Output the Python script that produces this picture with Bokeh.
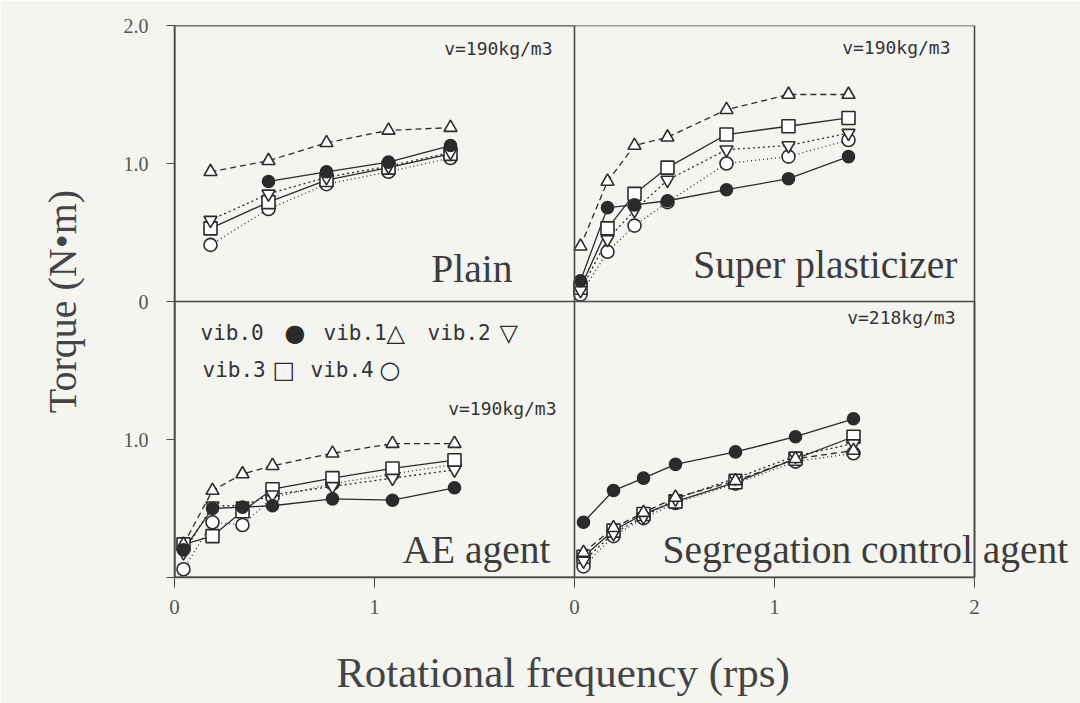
from bokeh.plotting import figure
from bokeh.models import Range1d, FixedTicker, Label, BoxAnnotation
from bokeh.embed import file_html
from bokeh.resources import INLINE

nan = float("nan")

# ---- data (rotational frequency in rps, torque in N*m) ----
plain_x = [0.18, 0.47, 0.76, 1.07, 1.38]
plain_vib0 = [nan, 0.87, 0.94, 1.01, 1.13]
plain_vib1 = [0.94, 1.02, 1.15, 1.24, 1.26]
plain_vib2 = [0.59, 0.78, 0.90, 0.98, 1.08]
plain_vib3 = [0.53, 0.72, 0.88, 0.97, 1.07]
plain_vib4 = [0.41, 0.67, 0.85, 0.94, 1.04]

sp_x = [0.03, 0.165, 0.30, 0.465, 0.76, 1.07, 1.37]
sp_vib0 = [0.15, 0.68, 0.70, 0.73, 0.81, 0.89, 1.05]
sp_vib1 = [0.40, 0.87, 1.13, 1.19, 1.39, 1.50, 1.50]
sp_vib2 = [0.08, 0.45, 0.66, 0.88, 1.10, 1.13, 1.22]
sp_vib3 = [0.10, 0.53, 0.78, 0.97, 1.21, 1.27, 1.33]
sp_vib4 = [0.05, 0.36, 0.55, 0.72, 1.00, 1.05, 1.17]

ae_x = [0.045, 0.19, 0.34, 0.49, 0.79, 1.09, 1.40]
ae_vib0 = [0.20, 0.50, 0.51, 0.52, 0.57, 0.56, 0.65]
ae_vib1 = [0.24, 0.63, 0.75, 0.81, 0.90, 0.97, 0.97]
ae_vib2 = [0.18, 0.52, 0.52, 0.60, 0.66, 0.72, 0.78]
ae_vib3 = [0.24, 0.30, 0.48, 0.64, 0.72, 0.79, 0.85]
ae_vib4 = [0.06, 0.40, 0.38, 0.58, 0.68, 0.75, 0.82]

seg_x = [0.045, 0.195, 0.345, 0.505, 0.805, 1.105, 1.395]
seg_vib0 = [0.40, 0.63, 0.72, 0.82, 0.91, 1.02, 1.15]
seg_vib1 = [0.18, 0.36, 0.47, 0.58, 0.70, 0.86, 0.92]
seg_vib2 = [0.12, 0.32, 0.44, 0.57, 0.72, 0.88, 0.97]
seg_vib3 = [0.15, 0.34, 0.46, 0.55, 0.69, 0.86, 1.02]
seg_vib4 = [0.08, 0.30, 0.43, 0.54, 0.68, 0.84, 0.90]

panel_names = ["Plain", "Super plasticizer", "AE agent", "Segregation control agent"]
panel_notes = ["v=190kg/m3", "v=190kg/m3", "v=190kg/m3", "v=218kg/m3"]
series_names = ["vib.0", "vib.1", "vib.2", "vib.3", "vib.4"]

x_tick_labels = ["0", "1", "0", "1", "2"]
y_tick_labels = ["", "1.0", "0", "1.0", "2.0"]

# ---- styling ----
BG = "#f4f4f1"
INK = "#2b2b2b"
GREY = "#4a4a4a"
SERIF = "Liberation Serif"
MONO = "DejaVu Sans Mono"

markers = ["circle", "triangle", "inverted_triangle", "square", "circle"]
fills = [INK, "white", "white", "white", "white"]
dashes = ["solid", "6 4", "2 3", "solid", "1 3"]

# The frame runs to the right edge of the page so that the long panel title can
# overflow the panel border as in the original; the panel borders are drawn as boxes.
p = figure(width=1080, height=703, x_range=Range1d(0, 4.53), y_range=Range1d(0, 4),
           output_backend="svg", toolbar_location=None,
           min_border_left=174, min_border_right=0, min_border_top=25, min_border_bottom=126)
p.extra_x_ranges = {"right": Range1d(-2, 2.53)}
p.extra_y_ranges = {"top": Range1d(-2, 2)}
p.background_fill_color = BG
p.border_fill_color = BG
p.outline_line_color = None
p.xgrid.visible = False
p.ygrid.visible = False

# axes
xa = p.xaxis[0]
xa.bounds = (0, 4)
xa.ticker = FixedTicker(ticks=[0, 1, 2, 3, 4])
xa.major_label_overrides = {i: t for i, t in enumerate(x_tick_labels)}
xa.minor_tick_line_color = None
xa.major_tick_out = 10
xa.major_tick_in = 0
xa.major_label_standoff = 12
xa.axis_line_color = GREY
xa.axis_line_width = 1.6
xa.major_tick_line_color = GREY
xa.major_label_text_font = SERIF
xa.major_label_text_font_size = "21px"
xa.major_label_text_color = "#555555"
# trailing no-break spaces shift the centred label back under the two panels
xa.axis_label = "Rotational frequency (rps)" + "\u00a0" * 12
xa.axis_label_text_font = SERIF
xa.axis_label_text_font_style = "normal"
xa.axis_label_text_font_size = "43px"
xa.axis_label_text_color = "#444444"
xa.axis_label_standoff = 32

ya = p.yaxis[0]
ya.ticker = FixedTicker(ticks=[0, 1, 2, 3, 4])
ya.major_label_overrides = {i: t for i, t in enumerate(y_tick_labels)}
ya.minor_tick_line_color = None
ya.major_tick_out = 8
ya.major_tick_in = 0
ya.major_label_standoff = 18
ya.axis_line_color = GREY
ya.axis_line_width = 1.6
ya.major_tick_line_color = GREY
ya.major_label_text_font = SERIF
ya.major_label_text_font_size = "20px"
ya.major_label_text_color = "#555555"
ya.axis_label = "Torque (N\u2022m)"
ya.axis_label_text_font = SERIF
ya.axis_label_text_font_style = "normal"
ya.axis_label_text_font_size = "40px"
ya.axis_label_text_color = "#444444"
ya.axis_label_standoff = 36

# panel borders and dividers
for l, r, b, t in [(0, 4, 0, 4), (0, 4, 0, 2), (0, 2, 0, 4)]:
    p.add_layout(BoxAnnotation(left=l, right=r, bottom=b, top=t, fill_color=None,
                               line_color=GREY, line_alpha=1.0, line_width=1.6))

panels = [
    (plain_x, [plain_vib0, plain_vib1, plain_vib2, plain_vib3, plain_vib4], "default", "top"),
    (sp_x, [sp_vib0, sp_vib1, sp_vib2, sp_vib3, sp_vib4], "right", "top"),
    (ae_x, [ae_vib0, ae_vib1, ae_vib2, ae_vib3, ae_vib4], "default", "default"),
    (seg_x, [seg_vib0, seg_vib1, seg_vib2, seg_vib3, seg_vib4], "right", "default"),
]

for xs, series, xr, yr in panels:
    for i, ys in enumerate(series):
        p.line(xs, ys, x_range_name=xr, y_range_name=yr, line_color=INK,
               line_width=1.3, line_dash=dashes[i])
    for i in [4, 3, 2, 1, 0]:
        p.scatter(xs, series[i], x_range_name=xr, y_range_name=yr, marker=markers[i],
                  size=13 if i != 0 else 12, fill_color=fills[i], line_color=INK, line_width=1.6)

# panel titles
title_pos = [(1.69, 2.239, "right"), (3.915, 2.268, "right"), (1.88, 0.196, "right"), (2.44, 0.196, "left")]
for (tx, ty, al), name in zip(title_pos, panel_names):
    p.add_layout(Label(x=tx, y=ty, text=name, text_align=al, text_baseline="alphabetic",
                       text_font=SERIF, text_font_size="39.5px", text_color="#3c3c3c"))

note_pos = [(1.89, 3.833), (3.88, 3.84), (1.91, 1.225), (3.905, 1.884)]
for (tx, ty), note in zip(note_pos, panel_notes):
    p.add_layout(Label(x=tx, y=ty, text=note, text_align="right", text_baseline="middle",
                       text_font=MONO, text_font_size="18px", text_color="#333333"))

# legend key (text)
legend_syms = ["\u25cf", "\u25b3", "\u25bd", "\u25a1", "\u25cb"]
legend_pos = [(0.13, 0.55, 1.775), (0.745, 1.06, 1.775), (1.265, 1.625, 1.775),
              (0.14, 0.49, 1.507), (0.68, 1.025, 1.507)]
for (lx, sx, ly), nm, sym in zip(legend_pos, series_names, legend_syms):
    p.add_layout(Label(x=lx, y=ly, text=nm, text_align="left", text_baseline="middle",
                       text_font=MONO, text_font_size="21px", text_color="#333333"))
    p.add_layout(Label(x=sx, y=ly, text=sym, text_align="left", text_baseline="middle",
                       text_font="DejaVu Sans", text_font_size="24px", text_color=INK))

open("out.html", "w").write(file_html(p, INLINE))
